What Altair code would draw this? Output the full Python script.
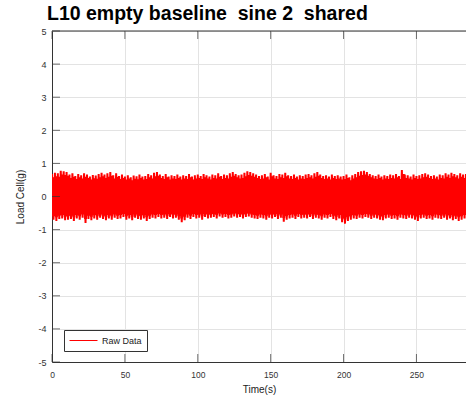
import altair as alt
import pandas as pd

# Envelope of the raw load-cell signal
# upper peaks at t = 0, 2, 4, ..., 284 s
upper = [0.68, 0.72, 0.70, 0.78, 0.76, 0.74,
         0.66, 0.70, 0.62, 0.68, 0.64, 0.70, 0.66, 0.60, 0.65, 0.63,
         0.68, 0.72, 0.66, 0.70, 0.74, 0.64, 0.70, 0.62, 0.66, 0.60,
         0.64, 0.58, 0.63, 0.61, 0.66, 0.60, 0.62, 0.68, 0.64, 0.72,
         0.74, 0.66, 0.62, 0.68, 0.60, 0.64, 0.62, 0.66, 0.60, 0.64,
         0.62, 0.68, 0.60, 0.64, 0.66, 0.62, 0.68, 0.64, 0.60, 0.66,
         0.64, 0.70, 0.62, 0.66, 0.64, 0.70, 0.74, 0.68, 0.64, 0.66,
         0.72, 0.76, 0.74, 0.70, 0.66, 0.62, 0.64, 0.68, 0.60, 0.72,
         0.64, 0.62, 0.68, 0.66, 0.72, 0.64, 0.62, 0.66, 0.60, 0.64,
         0.62, 0.66, 0.68, 0.64, 0.70, 0.74, 0.66, 0.62, 0.64, 0.60,
         0.66, 0.62, 0.64, 0.60, 0.62, 0.66, 0.58, 0.64, 0.68, 0.74,
         0.76, 0.78, 0.74, 0.68, 0.64, 0.62, 0.66, 0.60, 0.64, 0.62,
         0.66, 0.64, 0.68, 0.62, 0.80, 0.66, 0.64, 0.60, 0.66, 0.62,
         0.64, 0.68, 0.70, 0.66, 0.62, 0.64, 0.60, 0.66, 0.64, 0.70,
         0.66, 0.72, 0.68, 0.64, 0.70, 0.66, 0.68]
# lower troughs at t = 1, 3, 5, ..., 285 s
lower = [-0.70, -0.74, -0.68, -0.66, -0.72, -0.70,
         -0.68, -0.74, -0.66, -0.70, -0.64, -0.80, -0.68, -0.72, -0.66, -0.70,
         -0.64, -0.68, -0.72, -0.66, -0.70, -0.64, -0.68, -0.66, -0.62, -0.70,
         -0.66, -0.72, -0.64, -0.68, -0.70, -0.66, -0.74, -0.68, -0.64, -0.66,
         -0.62, -0.66, -0.64, -0.68, -0.62, -0.66, -0.64, -0.70, -0.78, -0.72,
         -0.64, -0.68, -0.62, -0.66, -0.64, -0.70, -0.62, -0.66, -0.64, -0.62,
         -0.66, -0.60, -0.64, -0.62, -0.66, -0.64, -0.60, -0.64, -0.62, -0.66,
         -0.62, -0.60, -0.64, -0.66, -0.68, -0.64, -0.66, -0.70, -0.64, -0.66,
         -0.62, -0.68, -0.64, -0.76, -0.70, -0.66, -0.64, -0.68, -0.62, -0.66,
         -0.64, -0.66, -0.62, -0.68, -0.64, -0.66, -0.70, -0.64, -0.66, -0.62,
         -0.68, -0.72, -0.66, -0.78, -0.82, -0.74, -0.70, -0.66, -0.68, -0.64,
         -0.66, -0.62, -0.64, -0.68, -0.64, -0.66, -0.70, -0.72, -0.66, -0.64,
         -0.68, -0.66, -0.70, -0.64, -0.66, -0.68, -0.64, -0.66, -0.70, -0.74,
         -0.66, -0.64, -0.68, -0.66, -0.70, -0.64, -0.66, -0.68, -0.64, -0.70,
         -0.66, -0.72, -0.68, -0.74, -0.70, -0.66, -0.68]

x_ticks = [0, 50, 100, 150, 200, 250]
y_ticks = [-5, -4, -3, -2, -1, 0, 1, 2, 3, 4, 5]
x_max = 284

rows = []
for i, (u, l) in enumerate(zip(upper, lower)):
    rows.append({"t": 2 * i, "v": u, "s": "Raw Data"})
    rows.append({"t": 2 * i + 1, "v": l, "s": "Raw Data"})
df = pd.DataFrame(rows)

env = pd.DataFrame({"t": [2 * i for i in range(len(upper))],
                    "u": [u * 0.85 for u in upper],
                    "l": [l * 0.85 for l in lower]})

xs = alt.Scale(domain=[0, x_max], nice=False, zero=False)
ys = alt.Scale(domain=[-5, 5], nice=False)

FONT = "Liberation Sans"
RED = "#ff0000"
MINUS = "replace(datum.label, '\u2212', '-')"

XAX = alt.Axis(values=x_ticks, ticks=False, labelPadding=8, titlePadding=6,
               grid=True, labelOverlap=False, labelFlush=False)
YAX = alt.Axis(values=y_ticks, tickCount=11, ticks=False, labelPadding=6, titlePadding=12,
               grid=True, labelOverlap=False, labelFontSize=9, labelExpr=MINUS)
XT = "Time(s)"
YT = "Load Cell(g)"

band = alt.Chart(env).mark_area(color=RED, interpolate="step-after", clip=True).encode(
    x=alt.X("t:Q", scale=xs, title=XT, axis=XAX),
    y=alt.Y("u:Q", scale=ys, title=YT, axis=YAX),
    y2="l:Q")

line = alt.Chart(df).mark_line(strokeWidth=2.0, strokeJoin="bevel", clip=True).encode(
    x=alt.X("t:Q", scale=xs, title=XT, axis=XAX),
    y=alt.Y("v:Q", scale=ys, title=YT, axis=YAX),
    color=alt.Color("s:N", scale=alt.Scale(domain=["Raw Data"], range=[RED]),
                    legend=alt.Legend(orient="none", legendX=12, legendY=299, title=None,
                                      symbolType="M-1,0H4.6", symbolSize=100,
                                      symbolStrokeWidth=1, labelFontSize=9,
                                      labelOffset=22, labelFont=FONT, labelColor="#222",
                                      labelExpr="datum.label + '\u00a0\u00a0\u00a0\u00a0'",
                                      strokeColor="#333", fillColor="white",
                                      padding=5, cornerRadius=0)),
)

xt = pd.DataFrame({"x": x_ticks})
yt = pd.DataFrame({"y": y_ticks})
bottom_ticks = alt.Chart(xt).mark_tick(color="#333", size=8, thickness=1, yOffset=-4,
                                       orient="vertical").encode(
    x=alt.X("x:Q", scale=xs, title=XT, axis=XAX),
    y=alt.YDatum(-5, scale=ys, title=YT, axis=YAX))
top_ticks = alt.Chart(xt).mark_tick(color="#333", size=8, thickness=1, yOffset=4,
                                    orient="vertical").encode(
    x=alt.X("x:Q", scale=xs, title=XT, axis=XAX),
    y=alt.YDatum(5, scale=ys, title=YT, axis=YAX))
left_ticks = alt.Chart(yt).mark_tick(color="#333", size=8, thickness=1, xOffset=4,
                                     orient="horizontal").encode(
    y=alt.Y("y:Q", scale=ys, title=YT, axis=YAX),
    x=alt.XDatum(0, scale=xs, title=XT, axis=XAX))
top_rule = alt.Chart(yt).transform_filter("datum.y == 5").mark_rule(
    color="#333", strokeWidth=1).encode(
    y=alt.Y("y:Q", scale=ys, title=YT, axis=YAX),
    x=alt.XDatum(0, scale=xs, title=XT, axis=XAX), x2=alt.datum(x_max))

chart = alt.layer(band, line, top_rule, bottom_ticks, top_ticks, left_ticks).properties(
    width=414, height=331,
    autosize=alt.AutoSizeParams(type="none"),
    padding={"left": 52, "top": 31, "right": 0, "bottom": 40},
    title=alt.TitleParams("L10 empty baseline \u00a0sine 2 \u00a0shared", anchor="start",
                          frame="group", fontSize=19.5, fontWeight="bold", font=FONT,
                          color="black", dx=-5, offset=3),
).configure_view(stroke=None).configure_axis(
    labelFont=FONT, titleFont=FONT, labelFontSize=8.5, titleFontSize=10,
    labelColor="#333", titleColor="#222", titleFontWeight="normal",
    domainColor="#333", gridColor="#e3e3e3", gridWidth=1, labelOverlap=False,
).configure_axisY(labelOverlap=False)

chart.save("out.html", embed_options={"renderer": "svg", "actions": False})
